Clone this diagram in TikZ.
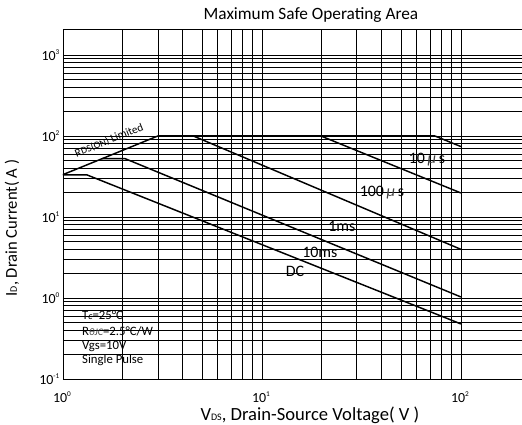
\documentclass[tikz,border=0pt]{standalone}
\usepackage{fontspec}
\setmainfont{Carlito}
\usepackage{tikz}

\newcommand{\tpow}[1]{\raisebox{0.9ex}{\fontsize{5.5}{6}\selectfont #1}}
\newcommand{\smallsub}[1]{{\fontsize{7.5}{8}\selectfont #1}}
\newcommand{\mus}{\,{\color{darkgray}\itshape µ}\,s}

\tikzset{
  gridline/.style={line width=0.6pt, black},
  curve/.style={line width=1.1pt, black, line join=round},
  ticklabel/.style={font=\fontsize{10.5}{12}\selectfont, inner sep=1pt},
  curvelabel/.style={font=\fontsize{12}{14}\selectfont, inner sep=0pt},
  axislabel/.style={font=\fontsize{13}{15}\selectfont, inner sep=0pt},
  notelabel/.style={font=\fontsize{9.6}{11}\selectfont, inner sep=0pt, anchor=west}
}

\begin{document}
\begin{tikzpicture}[x=5.265cm, y=2.143cm]
            \def\xmax{2.307}
            \def\ymax{4.321}
            \useasboundingbox (-0.3166,-0.568) rectangle (\xmax,4.679);

            % Gitter (log-log):
            \foreach \d in {0,1}
            \foreach \k in {1,...,9}
            \draw[gridline] ({\d+ln(\k)/ln(10)},0) -- ({\d+ln(\k)/ln(10)},\ymax);
            \draw[gridline] (2,0) -- (2,\ymax);
            \foreach \d in {0,1,2,3}
            \foreach \k in {1,...,9}
            \draw[gridline] (0,{\d+ln(\k)/ln(10)}) -- (\xmax,{\d+ln(\k)/ln(10)});
            \draw[gridline] (0,4) -- (\xmax,4);
            \draw[gridline] (0,\ymax) -- (\xmax,\ymax);

            % Achsenbeschriftung:
            \foreach \e/\y in {-1/0,0/1,1/2,2/3,3/4}
            \node[ticklabel, anchor=east] (ytick\y) at (-0.01,\y) {10\tpow{\e}};
            \foreach \e in {0,1,2}
            \node[ticklabel] (xtick\e) at (\e-0.005,-0.222) {10\tpow{\e}};

            \node[axislabel] (title) at (1.246,4.494) {Maximum Safe Operating Area};
            \node[axislabel, font=\fontsize{14}{16}\selectfont] (xlabel) at (1.241,-0.445) {V\smallsub{DS}, Drain-Source Voltage( V )};
            \node[axislabel, font=\fontsize{12.5}{15}\selectfont, rotate=90] (ylabel) at (-0.256,1.864) {I\smallsub{D}, Drain Current( A )};

            % SOA-Kurven:
            \draw[curve] (0,2.523) -- (0.477,3) -- (1.869,3) -- (2,2.869);
            \draw[curve] (1.296,3) -- (2,2.296);
            \draw[curve] (0.655,3) -- (2,1.6);
            \draw[curve] (0.197,2.72) -- (0.312,2.72) -- (2,1.012);
            \draw[curve] (0,2.519) -- (0.121,2.519) -- (2,0.679);

            \node[curvelabel] (l10us) at (1.829,2.704) {10\mus};
            \node[curvelabel] (l100us) at (1.603,2.296) {100\mus};
            \node[curvelabel] (l1ms) at (1.402,1.889) {1ms};
            \node[curvelabel] (l10ms) at (1.291,1.568) {10ms};
            \node[curvelabel] (ldc) at (1.166,1.333) {DC};
            \node[font=\fontsize{8.5}{10}\selectfont, rotate=22, inner sep=0pt] (rds) at (0.232,2.945) {R\smallsub{DS(ON)} Limited};

            % Bedingungen:
            \node[notelabel] (tc) at (0.095,0.79) {T\smallsub{\itshape c}=25°C};
            \node[notelabel] (rth) at (0.095,0.593) {R\smallsub{\color{darkgray}\itshape θJC}=2.5°C/W};
            \node[notelabel] (vgs) at (0.095,0.407) {Vgs=10V};
            \node[notelabel] (pulse) at (0.095,0.235) {Single Pulse};

\end{tikzpicture}
\end{document}
